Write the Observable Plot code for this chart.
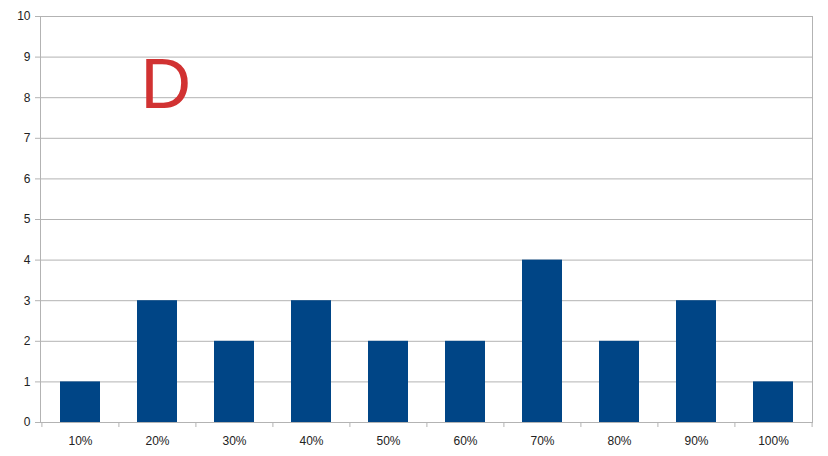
<!DOCTYPE html>
<html>
<head>
<meta charset="utf-8">
<script src="https://cdn.jsdelivr.net/npm/d3@7"></script>
<script src="https://cdn.jsdelivr.net/npm/@observablehq/plot@0.6"></script>
<style>
  html, body { margin: 0; padding: 0; background: #fff; }
  #chart { width: 828px; height: 456px; }
</style>
</head>
<body>
<div id="chart"></div>
<script>
const categories = ["10%", "20%", "30%", "40%", "50%", "60%", "70%", "80%", "90%", "100%"];
const values = [1, 3, 2, 3, 2, 2, 4, 2, 3, 1];
const yTicks = [0, 1, 2, 3, 4, 5, 6, 7, 8, 9, 10];
const label = "D";

const data = categories.map((c, i) => ({cat: c, value: values[i]}));

const W = 828, H = 456;
const mL = 40, mR = 16, mT = 16, mB = 34;
const step = (W - mL - mR) / categories.length;
const grid = "#b3b3b3";

const chart = Plot.plot({
  width: W,
  height: H,
  marginLeft: mL,
  marginRight: mR,
  marginTop: mT,
  marginBottom: mB,
  style: {fontFamily: "'Liberation Sans', Arial, sans-serif", fontSize: "12px", background: "#fff", overflow: "visible"},
  x: {type: "band", domain: categories, paddingInner: 0.486, paddingOuter: 0.243, align: 0.5},
  y: {domain: [0, 10]},
  marks: [
    Plot.gridY(yTicks, {stroke: grid, strokeOpacity: 1}),
    Plot.frame({stroke: grid}),
    Plot.barY(data, {x: "cat", y: "value", fill: "#004586"}),
    Plot.axisY(yTicks, {tickSize: 5, tickPadding: 5, stroke: grid, strokeOpacity: 1, fill: "#222", label: null, fontSize: 12}),
    Plot.axisX({tickSize: 0, tickPadding: 14, fill: "#222", label: null, fontSize: 12}),
    Plot.axisX({tickSize: 5, text: null, stroke: grid, strokeOpacity: 1, dx: -step / 2, label: null}),
    Plot.axisX([categories[categories.length - 1]], {tickSize: 5, text: null, stroke: grid, strokeOpacity: 1, dx: step / 2, label: null}),
    Plot.text([label], {text: d => d, frameAnchor: "top-left", dx: 100, dy: 42, lineAnchor: "top", textAnchor: "start", fontSize: 70, fill: "#d13232"})
  ]
});
document.getElementById("chart").appendChild(chart);
</script>
</body>
</html>
